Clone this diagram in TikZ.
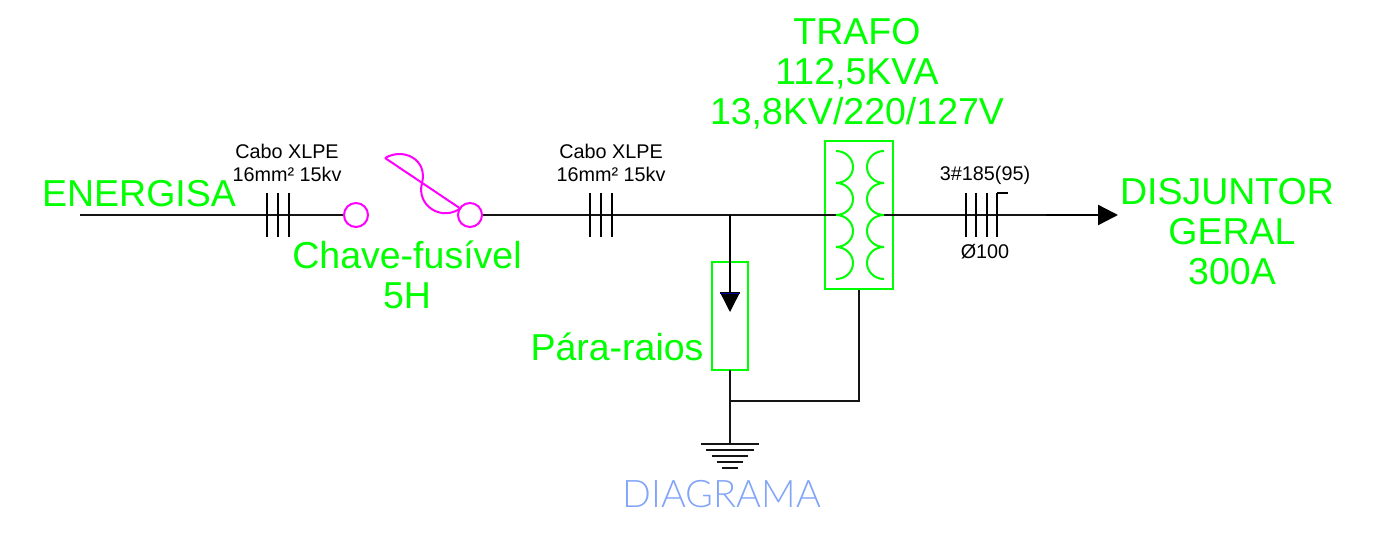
\documentclass[tikz,border=0pt]{standalone}
\usepackage{fontspec}
\setmainfont{Liberation Sans}
\newfontfamily\diagfont[UprightFont=* Light]{Lato}
\usetikzlibrary{arrows.meta}
\definecolor{lime}{RGB}{0,255,0}
\definecolor{pink}{RGB}{255,0,255}
\definecolor{titleblue}{RGB}{130,165,250}
\definecolor{wire}{RGB}{20,20,20}

\begin{document}
\begin{tikzpicture}[x=1pt,y=-1pt,line width=1.5pt,
    wire/.style={draw=wire},
    tick/.style={draw=black,line width=1.6pt},
    coil/.style={draw=lime,line width=2pt},
    box/.style={draw=lime,line width=2pt,inner sep=0pt},
    pole/.style={circle,draw=pink,line width=2pt,inner sep=0pt,minimum size=24pt},
    fuse/.style={draw=pink,line width=2pt},
    big/.style={text=lime,inner sep=0pt,align=center,font=\fontsize{37.5}{40}\selectfont},
    small/.style={text=black,inner sep=0pt,align=center,font=\fontsize{19.8}{23}\selectfont},
    tip/.style={-{Triangle[length=20pt,width=20pt]}}]
    \useasboundingbox (0,0) rectangle (1400,540);
    \fill[white] (0,0) rectangle (1400,540);
    \coordinate (source) at (80,215);
    \coordinate (coilL) at (836,215);
    \coordinate (coilR) at (884,215);
    \coordinate (load) at (1046,215);
    \coordinate (loadtip) at (1118,215);
    \coordinate (branch) at (730,215);
    \coordinate (arrowtip) at (730,312);
    \coordinate (tap) at (730,401);
    \coordinate (earth) at (730,443);
    \node[pole] (fuseA) at (356,215) {};
    \node[pole] (fuseB) at (470,215) {};
    \node[box,minimum width=68pt,minimum height=148pt] (trafo) at (859,215) {};
    \node[box,minimum width=36pt,minimum height=108pt] (raios) at (730,316) {};
    \draw[wire] (source) -- (fuseA);
    \draw[wire] (fuseB) -- (coilL);
    \draw[wire] (coilR) -- (load);
    \draw[draw=black,line width=2.4pt,tip] (load) -- (loadtip);
    \draw[draw=black,tip] (branch) -- (arrowtip);
    \draw[wire] (raios) ++(0,54) -- (earth);
    \draw[wire] (tap) -| (trafo.south);
    \draw[draw=blue!60!black,line width=1pt] (720,293) -- (740,293);
    \foreach \x in {267,278,289,590,601,612,966,976,987,997}
        \draw[tick] (\x,193) -- (\x,237);
    \draw[tick] (1008,193) -- (997,193);
    \foreach \y in {151,183,215,247} {
        \draw[coil] (836,\y) arc (-90:90:17 and 16);
        \draw[coil] (884,\y) arc (270:90:17 and 16);
    }
    \foreach \w/\y in {29/444,24/450,18/456,13/462,8/468}
        \draw[wire] (730-\w,\y) -- (730+\w,\y);
    \draw[fuse] (385,158) -- (fuseB);
    \draw[fuse] (385,158) .. controls (404,147) and (428,160) .. (422,183)
        .. controls (416,206) and (442,222) .. (461,208);
    \node[big,anchor=base] (energisa) at (139,207) {ENERGISA};
    \node[big] (chave) at (407,275) {Chave-fusível\\5H};
    \node[big,anchor=base] (pararaios) at (617,360) {Pára-raios};
    \node[big] (trafolabel) at (857,74) {TRAFO\\112,5KVA\\13,8KV/220/127V};
    \node[big,anchor=base] (disjuntor) at (1227,205) {DISJUNTOR};
    \node[big] (geral) at (1232,252) {GERAL\\300A};
    \node[small] (caboA) at (287,163) {Cabo XLPE\\16mm² 15kv};
    \node[small] (caboB) at (611,163) {Cabo XLPE\\16mm² 15kv};
    \node[small] (bitola) at (985,175) {3\#185(95)};
    \node[small] (duto) at (985,252) {Ø100};
    \node[text=titleblue,inner sep=0pt,font=\diagfont\fontsize{38}{40}\selectfont,anchor=base] (titulo) at (722,507) {DIAGRAMA};
\end{tikzpicture}
\end{document}
